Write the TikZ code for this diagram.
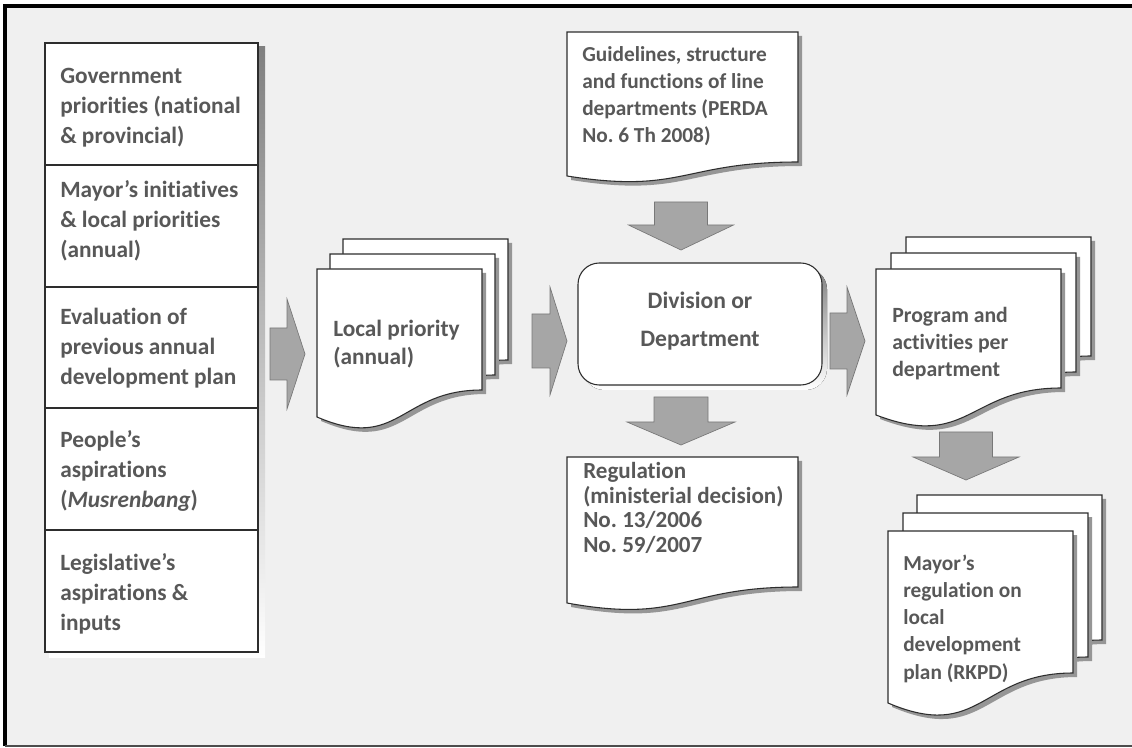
\documentclass[tikz,border=0pt]{standalone}
\usepackage{fontspec}
\setmainfont{Carlito}[Ligatures=NoCommon]
\usetikzlibrary{calc}
\frenchspacing
\definecolor{bgc}{RGB}{240,240,240}
\definecolor{txt}{RGB}{88,88,88}
\definecolor{edge}{RGB}{45,45,45}
\definecolor{shade}{RGB}{150,150,150}
\definecolor{arrowfill}{RGB}{166,166,166}
\definecolor{arrowedge}{RGB}{120,120,120}
% document shape with a wavy bottom: left, top, right, right-bottom y, left-bottom y
\newcommand\docshape[6][]{%
  \path[#1] (#2,#3) -- (#4,#3) -- (#4,#5)
    .. controls ({(#2+#4)/2},#5) and ({(#2+#4)/2},{#6+1.31*(#6-#5)}) .. (#2,#6) -- cycle;}
% a page drawn with its shadow
\newcommand\page[5]{%
  \docshape[fill=shade,shift={(4,4)}]{#1}{#2}{#3}{#4}{#5}
  \docshape[fill=white,draw=edge,line width=0.8pt]{#1}{#2}{#3}{#4}{#5}}
% block arrow pointing right: body x0..x1, head x1..x2, centre y, body half, head half
\newcommand\rarrow[6]{%
  \filldraw[fill=arrowfill,draw=arrowedge,line width=0.5pt]
    (#1,{#4-#5}) -- (#2,{#4-#5}) -- (#2,{#4-#6}) -- (#3,#4) -- (#2,{#4+#6})
    -- (#2,{#4+#5}) -- (#1,{#4+#5}) -- cycle;}
% block arrow pointing down: body y0..y1, head y1..y2, centre x, body half, head half
\newcommand\darrow[6]{%
  \filldraw[fill=arrowfill,draw=arrowedge,line width=0.5pt]
    ({#4-#5},#1) -- ({#4-#5},#2) -- ({#4-#6},#2) -- (#4,#3) -- ({#4+#6},#2)
    -- ({#4+#5},#2) -- ({#4+#5},#1) -- cycle;}
% labels are placed by the baseline of their last line
\tikzset{
  lbl/.style={anchor=base west,align=left,inner sep=0pt,text=txt,font=\bfseries},
  inputfont/.style={font=\bfseries\fontsize{17.5}{22.5}\selectfont},
}
\begin{document}
\begin{tikzpicture}[x=0.75pt,y=-0.75pt]
\useasboundingbox (0,0) rectangle (1132,748);
% frame
\fill[white] (0,0) rectangle (1132,748);
\fill[bgc] (5,6) rectangle (1132,746);
\draw[black,line width=2.4pt] (5,746) -- (5,6) -- (1132,6);
\draw[black!70,line width=0.8pt] (5,746) -- (1132,746);

% left column of inputs
\fill[shade] (49,47) rectangle (265,657);
\foreach \t/\b in {43/165,165/287,287/408,408/530,530/652}
  \filldraw[fill=white,draw=edge,line width=0.8pt] (45,\t) rectangle (258,\b);
\node[lbl,inputfont] (gov) at (60,144)
  {Government\\priorities (national\\\& provincial)};
\node[lbl,inputfont] (mayor) at (60,258)
  {Mayor’s initiatives\\\& local priorities\\(annual)};
\node[lbl,inputfont] (eval) at (60,385)
  {Evaluation of\\previous annual\\development plan};
\node[lbl,inputfont] (people) at (60,508)
  {People’s\\aspirations\\(\textit{Musrenbang})};
\node[lbl,inputfont] (legis) at (60,630)
  {Legislative’s\\aspirations \&\\inputs};

% local priority pages
\page{343}{239}{508}{360}{387}
\page{330}{254}{495}{375}{402}
\page{317}{269}{482}{390}{417}
\node[lbl,font=\bfseries\fontsize{17.5}{21}\selectfont] (local) at (333,365)
  {Local priority\\(annual)};

% guidelines page
\page{567}{32}{798}{162}{176}
\node[lbl,font=\bfseries\fontsize{16}{20.3}\selectfont] (guide) at (582,143)
  {Guidelines, structure\\and functions of line\\departments (PERDA\\No. 6 Th 2008)};

% division box
\fill[shade,rounded corners=16pt] (583,268) rectangle (827,390);
\filldraw[fill=white,draw=edge,line width=0.8pt,rounded corners=16pt] (578,263) rectangle (822,385);
\node[anchor=base,align=center,inner sep=0pt,text=txt,font=\bfseries\fontsize{17.7}{28.5}\selectfont] (div) at (700,347)
  {Division or\\Department};

% regulation page
\page{567}{457}{798}{587}{603}
\node[lbl,font=\bfseries\fontsize{17.3}{18.3}\selectfont] (reg) at (583,552)
  {Regulation\\(ministerial decision)\\No. 13/2006\\No. 59/2007};

% program pages
\page{906}{237}{1091}{356}{383}
\page{891}{253}{1076}{372}{399}
\page{876}{269}{1061}{388}{415}
\node[lbl,font=\bfseries\fontsize{16.3}{20.3}\selectfont] (prog) at (892,377)
  {Program and\\activities per\\department};

% mayor's regulation pages
\page{917}{495}{1102}{640}{670}
\page{903}{513}{1088}{657}{687}
\page{888}{531}{1073}{673}{703}
\node[lbl,font=\bfseries\fontsize{16}{20.3}\selectfont] (rkpd) at (903,679)
  {Mayor’s\\regulation on\\local\\development\\plan (RKPD)};

% block arrows
\rarrow{270}{287}{305}{354}{26}{55}
\rarrow{532}{550}{567}{341}{27}{54}
\rarrow{830}{847}{865}{341}{28}{54}
\darrow{202}{225}{250}{681}{26.5}{52.5}
\darrow{397}{422}{445}{681}{27}{54}
\darrow{432}{457}{480}{966}{26.5}{53}
\end{tikzpicture}
\end{document}
